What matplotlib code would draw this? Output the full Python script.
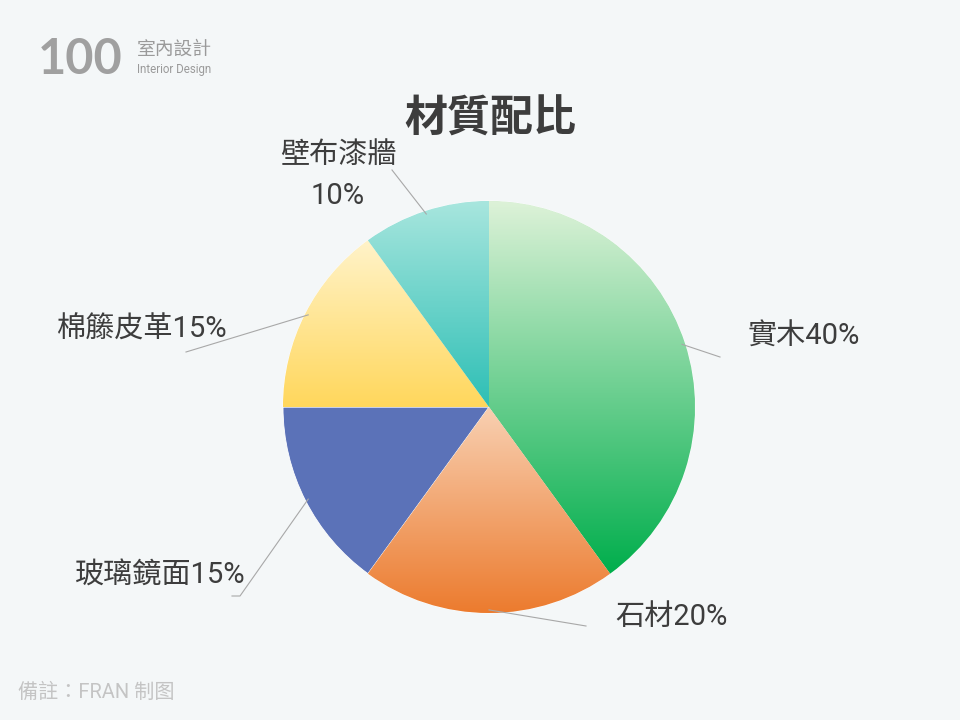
import numpy as np
import matplotlib
matplotlib.use("Agg")
import matplotlib.pyplot as plt
from matplotlib.colors import LinearSegmentedColormap

# ---- data ----
categories = ["實木", "石材", "玻璃鏡面", "棉籐皮革", "壁布漆牆"]
values = [40, 20, 15, 15, 10]
label_texts = ["實木40%", "石材20%", "玻璃鏡面15%", "棉籐皮革15%", "壁布漆牆\n10%"]
title = "材質配比"
footnote = "備註：FRAN 制图"

# ---- style ----
grad_colors = [("#ddf2d8", "#00ae4c"),
               ("#f8d0b2", "#ec7b2e"),
               None,
               ("#fff3c9", "#ffd75c"),
               ("#a8e6de", "#2dbfb5")]
solid_colors = ["#8fd69f", "#f2a36c", "#5b72b8", "#ffe08a", "#6dd3c8"]
BG = "#f4f7f8"
TXT = "#3d3d3d"
FONT = ["Roboto", "Noto Sans CJK TC", "DejaVu Sans"]
plt.rcParams['font.family'] = FONT

W, H = 960, 720
fig = plt.figure(figsize=(W / 100, H / 100), dpi=100, facecolor=BG)

def fx(x):
    return x / W

def fy(y):
    return 1 - y / H

cx, cy, R = 489, 407, 206
ax = fig.add_axes([fx(cx - R), fy(cy + R), 2 * R / W, 2 * R / H])
ax.set_facecolor("none")
wedges, _ = ax.pie(values, startangle=90, counterclock=False,
                   colors=solid_colors, radius=1,
                   wedgeprops=dict(edgecolor="#ffffff", linewidth=0.6))
ax.set_xlim(-1.0, 1.0)
ax.set_ylim(-1.0, 1.0)
ax.set_aspect("equal")
ax.axis("off")

for w, gc in zip(wedges, grad_colors):
    if gc is None:
        continue
    cmap = LinearSegmentedColormap.from_list("g", [gc[1], gc[0]])
    verts = w.get_path().vertices
    verts = w.get_patch_transform().transform(verts)
    x0, x1 = verts[:, 0].min(), verts[:, 0].max()
    y0, y1 = verts[:, 1].min(), verts[:, 1].max()
    grad = np.linspace(0, 1, 256).reshape(-1, 1)
    im = ax.imshow(grad, cmap=cmap, extent=(x0, x1, y0, y1), origin="lower",
                   aspect="auto", interpolation="bicubic", zorder=w.get_zorder() + 0.1)
    im.set_clip_path(w)
ax.set_xlim(-1.0, 1.0)
ax.set_ylim(-1.0, 1.0)

# ---- labels with leader lines ----
label_pos = [
    (748, 337, "left", [(720, 357)]),
    (615, 617, "left", [(586, 626)]),
    (75, 576, "left", [(240, 596), (232, 596)]),
    (56, 330, "left", [(186, 352)]),
    (338, 155, "center", [(392, 170)]),
]
LINE_GAP = 41
start_frac = 0.0
total = sum(values)
for v, txt, (tx, ty, ha, pts) in zip(values, label_texts, label_pos):
    mid = (start_frac + v / 2) / total
    ang = np.pi / 2 - 2 * np.pi * mid
    px = cx + R * 0.985 * np.cos(ang)
    py = cy - R * 0.985 * np.sin(ang)
    xs = [px] + [p[0] for p in pts]
    ys = [py] + [p[1] for p in pts]
    fig.add_artist(plt.Line2D([fx(x) for x in xs], [fy(y) for y in ys],
                              color="#a8a8a8", lw=0.8, transform=fig.transFigure))
    for i, line in enumerate(txt.split("\n")):
        fig.text(fx(tx), fy(ty + i * LINE_GAP), line, ha=ha, va="center",
                 fontsize=21, color=TXT)
    start_frac += v

# ---- title ----
fig.text(fx(490), fy(120), title, ha="center", va="center", fontsize=31,
         fontweight="bold", color=TXT)

# ---- footnote ----
fig.text(fx(18), fy(692), footnote, ha="left", va="center", fontsize=14.5,
         color="#c4c4c4")

# ---- logo ----
fig.text(fx(38), fy(59), "100", ha="left", va="center", fontsize=35,
         fontweight="bold", color="#a0a0a0", family=["Lato", "DejaVu Sans"])
fig.text(fx(137), fy(50), "室內設計", ha="left", va="center", fontsize=13.5,
         color="#9a9a9a")
fig.text(fx(137), fy(69), "Interior Design", ha="left", va="center", fontsize=8.3,
         color="#9a9a9a")

fig.savefig("out.png", dpi=100, facecolor=BG)
